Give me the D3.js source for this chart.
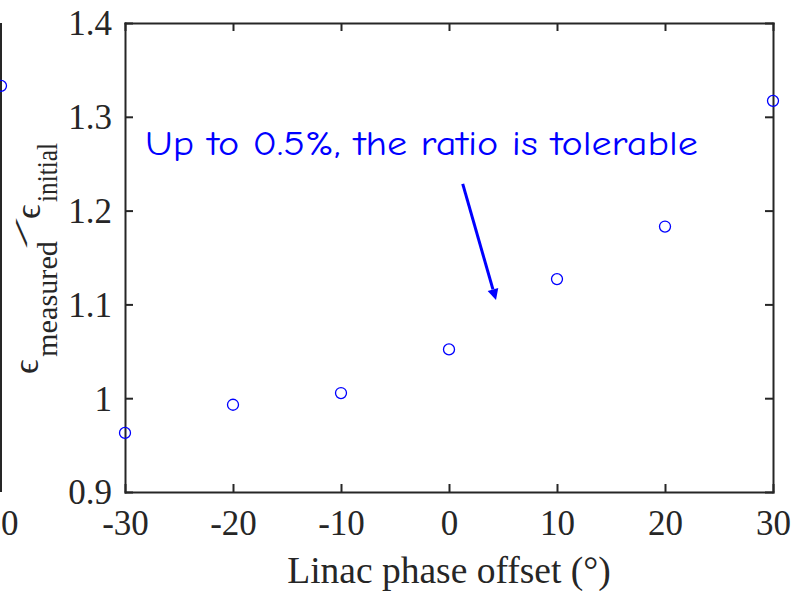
<!DOCTYPE html>
<html>
<head>
<meta charset="utf-8">
<script src="https://cdn.jsdelivr.net/npm/d3@7"></script>
<style>
  html, body { margin: 0; padding: 0; background: #fff; }
  svg { display: block; }
</style>
</head>
<body>
<script>
// ---- data ----
const phaseOffsets = [-30, -20, -10, 0, 10, 20, 30];
const emittanceRatio = [0.963, 0.993, 1.0055, 1.052, 1.127, 1.183, 1.317];
const xTicks = [-30, -20, -10, 0, 10, 20, 30];
const yTicks = [0.9, 1.0, 1.1, 1.2, 1.3, 1.4];
const yTickLabels = ["0.9", "1", "1.1", "1.2", "1.3", "1.4"];
// neighbouring (cropped) panel on the left: only its last point is visible
const prevPanelX = [30];
const prevPanelY = [1.333];
const annotationText = "Up to 0.5%, the ratio is tolerable";
const arrowFrom = [1.27, 1.2284];
const arrowTo = [4.35, 1.1047];

const W = 793, H = 591;
const L = 125, R = 773, T = 23, B = 492;
const axisColor = "#262626";
const blue = "#0000ff";

const svg = d3.select("body").append("svg").attr("width", W).attr("height", H);

const x = d3.scaleLinear().domain([-30, 30]).range([L, R]);
const y = d3.scaleLinear().domain([0.9, 1.4]).range([B, T]);
const xPrev = d3.scaleLinear().domain([-30, 30]).range([1 - (R - L), 1]);

// --- cropped previous panel remnants ---
svg.append("line").attr("x1", xPrev(30)).attr("x2", xPrev(30)).attr("y1", T).attr("y2", B)
  .attr("stroke", axisColor).attr("stroke-width", 2);
svg.selectAll("circle.prev").data(prevPanelX).join("circle").attr("class", "prev")
  .attr("cx", d => xPrev(d)).attr("cy", (d, i) => y(prevPanelY[i])).attr("r", 5.5)
  .attr("fill", "none").attr("stroke", blue).attr("stroke-width", 1.3);
svg.append("text").attr("x", xPrev(30)).attr("y", 535).attr("text-anchor", "middle")
  .attr("font-family", "Liberation Serif, Times New Roman, serif").attr("font-size", 35)
  .attr("fill", axisColor).text("30");

// --- axes box ---
const g = svg.append("g");
const tickLen = 8;
const xAxisB = d3.axisBottom(x).tickValues(xTicks).tickSizeInner(-tickLen).tickSizeOuter(0)
  .tickFormat(d => d3.format("d")(d).replace("−", "-")).tickPadding(20);
const gxb = g.append("g").attr("transform", `translate(0,${B})`).call(xAxisB);
const xAxisT = d3.axisTop(x).tickValues(xTicks).tickSizeInner(-tickLen).tickSizeOuter(0).tickFormat("");
const gxt = g.append("g").attr("transform", `translate(0,${T})`).call(xAxisT);
const yAxisL = d3.axisLeft(y).tickValues(yTicks).tickSizeInner(-tickLen).tickSizeOuter(0)
  .tickFormat((d, i) => yTickLabels[i]).tickPadding(13);
const gyl = g.append("g").attr("transform", `translate(${L},0)`).call(yAxisL);
const yAxisR = d3.axisRight(y).tickValues(yTicks).tickSizeInner(-tickLen).tickSizeOuter(0).tickFormat("");
const gyr = g.append("g").attr("transform", `translate(${R},0)`).call(yAxisR);

[gxb, gxt, gyl, gyr].forEach(a => {
  a.select(".domain").attr("stroke", axisColor).attr("stroke-width", 2);
  a.selectAll(".tick line").attr("stroke", axisColor).attr("stroke-width", 2);
  a.selectAll(".tick text").attr("fill", axisColor)
    .attr("font-family", "Liberation Serif, Times New Roman, serif").attr("font-size", 35);
});
gxb.selectAll(".tick text").attr("dy", null).attr("y", 43);
gyl.selectAll(".tick text").attr("dy", "0.34em");
g.selectAll(".domain").attr("stroke-linecap", "square");

// --- data points ---
svg.selectAll("circle.pt").data(phaseOffsets).join("circle").attr("class", "pt")
  .attr("cx", d => x(d)).attr("cy", (d, i) => y(emittanceRatio[i])).attr("r", 5.5)
  .attr("fill", "none").attr("stroke", blue).attr("stroke-width", 1.3);

// --- annotation ---
svg.append("text").attr("x", 145).attr("y", 155)
  .attr("font-family", "Comic Sans MS, Comic Neue, DejaVu Sans, sans-serif")
  .attr("font-size", 34).attr("fill", blue)
  .attr("textLength", 553).attr("lengthAdjust", "spacingAndGlyphs")
  .text(annotationText);

const ax0 = x(arrowFrom[0]), ay0 = y(arrowFrom[1]);
const ax1 = x(arrowTo[0]), ay1 = y(arrowTo[1]);
const dx = ax1 - ax0, dy = ay1 - ay0, len = Math.hypot(dx, dy);
const ux = dx / len, uy = dy / len;
const headL = 11, headW = 5.5;
const bx = ax1 - ux * headL, by = ay1 - uy * headL;
svg.append("line").attr("x1", ax0).attr("y1", ay0).attr("x2", bx).attr("y2", by)
  .attr("stroke", blue).attr("stroke-width", 3);
svg.append("path")
  .attr("d", `M${ax1},${ay1}L${bx - uy * headW},${by + ux * headW}L${bx + uy * headW},${by - ux * headW}Z`)
  .attr("fill", blue);

// --- x label ---
svg.append("text").attr("x", (L + R) / 2).attr("y", 583).attr("text-anchor", "middle")
  .attr("font-family", "Liberation Serif, Times New Roman, serif").attr("font-size", 37.5)
  .attr("fill", axisColor).text("Linac phase offset (°)");

// --- y label (rotated) ---
const yl = svg.append("g").attr("transform", "rotate(-90)")
  .attr("font-family", "Liberation Serif, DejaVu Serif, Times New Roman, serif").attr("fill", axisColor);
yl.append("text").attr("x", -374).attr("y", 38).attr("font-size", 36).text("ϵ");
yl.append("text").attr("x", -357).attr("y", 57).attr("font-size", 30)
  .attr("textLength", 116).attr("lengthAdjust", "spacingAndGlyphs").text("measured");
yl.append("text").attr("x", -248).attr("y", 27).attr("font-size", 17)
  .attr("textLength", 30).attr("lengthAdjust", "spacingAndGlyphs").text("/");
yl.append("text").attr("x", -219).attr("y", 40).attr("font-size", 36).text("ϵ");
yl.append("text").attr("x", -202).attr("y", 57).attr("font-size", 30)
  .attr("textLength", 59).attr("lengthAdjust", "spacingAndGlyphs").text("initial");
</script>
</body>
</html>
